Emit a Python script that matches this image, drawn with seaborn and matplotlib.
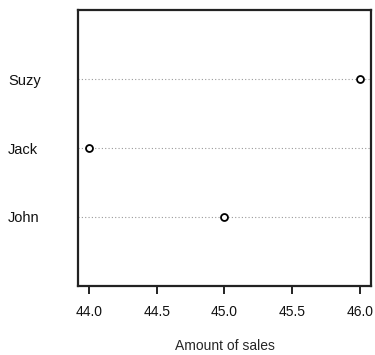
import matplotlib
matplotlib.use("Agg")
import matplotlib.pyplot as plt
import seaborn as sns
import pandas as pd

names = ["Suzy", "Jack", "John"]
sales = [46.0, 44.0, 45.0]
xticks = [44.0, 44.5, 45.0, 45.5, 46.0]
xlabel = "Amount of sales"

sns.set_style("white")
plt.rcParams["font.family"] = ["Liberation Sans", "DejaVu Sans"]

df = pd.DataFrame({"name": names, "sales": sales})

fig = plt.figure(figsize=(3.75, 3.55), dpi=100)
ax = fig.add_axes([78/375, 69/355, 293/375, 276/355])

for i in range(len(names)):
    ax.axhline(i, color="#9a9a9a", linestyle=(0, (1, 2)), linewidth=0.8, zorder=1)

sns.stripplot(data=df, x="sales", y="name", order=names, jitter=False,
              color="white", edgecolor="black", linewidth=1.3, size=5,
              ax=ax, zorder=3)

ax.set_xlim(43.92, 46.08)
ax.set_ylim(len(names), -1)
ax.set_xticks(xticks)
ax.set_xticklabels([f"{t:.1f}" for t in xticks])
ax.set_xlabel(xlabel, fontsize=10, labelpad=14)
ax.set_ylabel("")

for s in ax.spines.values():
    s.set_visible(True)
    s.set_linewidth(1.6)
    s.set_color("#222222")

ax.tick_params(axis="x", direction="out", length=6, width=1.3, pad=8,
               labelsize=10, colors="#111111", bottom=True)
ax.tick_params(axis="y", length=0, pad=50.4, labelsize=10.5, colors="#111111")
for lab in ax.get_yticklabels():
    lab.set_horizontalalignment("left")

fig.savefig("out.png", dpi=100)
